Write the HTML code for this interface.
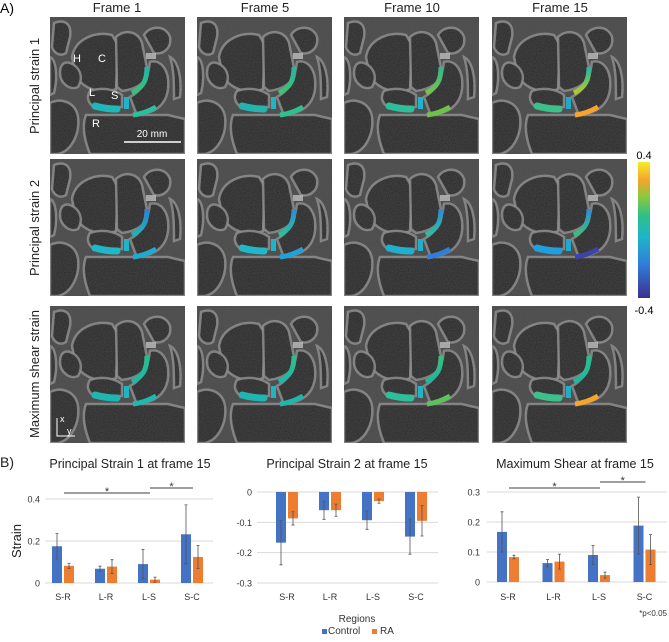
<!DOCTYPE html>
<html><head><meta charset="utf-8">
<style>
html,body{margin:0;padding:0;background:#fff;}
body{width:669px;height:637px;position:relative;overflow:hidden;font-family:"Liberation Sans",sans-serif;}
svg text{font-family:"Liberation Sans",sans-serif;}
</style></head>
<body>
<svg id="fig" width="669" height="637" viewBox="0 0 669 637" xmlns="http://www.w3.org/2000/svg">
<defs>
<filter id="noise" x="0" y="0" width="100%" height="100%">
<feTurbulence type="fractalNoise" baseFrequency="0.9" numOctaves="2" seed="3" result="t"/>
<feColorMatrix type="matrix" values="0 0 0 0 0.12  0 0 0 0 0.12  0 0 0 0 0.12  0 0 0 0.45 0" in="t"/>
<feComposite in2="SourceGraphic" operator="over"/>
</filter>
<g id="bones">
<rect x="0" y="0" width="135" height="137" fill="#4a4a4a"/>
<g fill="#232323" stroke="#9a9a9a" stroke-width="2.5" stroke-opacity="0.85">
<path d="M22,40 C25,22 45,14 62,18 L68,28 L66,72 C50,78 35,72 26,60 Z"/>
<path d="M66,20 C75,12 88,14 92,26 L98,56 C96,66 86,72 72,74 L67,70 Z"/>
<path d="M94,18 C100,8 116,8 120,20 C122,32 112,38 104,36 Z"/>
<path d="M4,6 C14,2 22,6 20,20 L16,36 C10,40 4,36 2,30 Z"/>
<path d="M100,45 C110,42 120,52 118,72 C116,88 104,98 86,96 L80,80 C92,74 98,62 100,45 Z"/>
<path d="M40,74 C52,70 64,72 72,78 L72,90 L44,90 C38,86 36,80 40,74 Z"/>
<path d="M0,86 C12,80 26,86 28,100 C30,116 22,134 8,137 L0,137 Z"/>
<path d="M36,98 L118,98 L126,100 L135,102 L135,137 L40,137 C34,122 32,108 36,98 Z"/>
<path d="M20,46 C30,50 34,60 28,70 C20,74 10,66 10,56 C10,48 14,44 20,46 Z"/>
<path d="M0,40 C6,42 8,60 4,76 L0,78 Z"/>
<path d="M120,40 C128,44 132,60 130,80 L124,82 C124,66 124,52 120,40 Z"/>
</g>
<rect x="96" y="36" width="10" height="6" fill="#d0d0d0" opacity="0.8"/>
</g>
</defs>
<text x="0" y="13" font-size="14">A)</text>
<g id="cols" font-size="13" text-anchor="middle" fill="#222">
<text x="117" y="12">Frame 1</text>
<text x="265" y="12">Frame 5</text>
<text x="412" y="12">Frame 10</text>
<text x="560" y="12">Frame 15</text>
</g>
<g font-size="13" fill="#222" text-anchor="middle">
<text transform="translate(39,86) rotate(-90)">Principal strain 1</text>
<text transform="translate(39,228) rotate(-90)">Principal strain 2</text>
<text transform="translate(39,374) rotate(-90)">Maximum shear strain</text>
</g>
<g id="panels"></g>
<g id="colorbar">
<defs><linearGradient id="viridis" x1="0" y1="1" x2="0" y2="0">
<stop offset="0" stop-color="#3b2f8f"/><stop offset="0.25" stop-color="#2f7fd8"/><stop offset="0.45" stop-color="#1fb5c8"/><stop offset="0.6" stop-color="#2cbf8a"/><stop offset="0.75" stop-color="#8fc83a"/><stop offset="0.87" stop-color="#f5a52c"/><stop offset="1" stop-color="#f4ec2a"/></linearGradient></defs>
<rect x="638" y="162" width="12" height="136" fill="url(#viridis)"/>
<text x="644" y="159" font-size="11" text-anchor="middle">0.4</text>
<text x="644" y="314" font-size="11" text-anchor="middle">-0.4</text>
</g>
<g id="charts"></g>
</svg>
<script>
const NS='http://www.w3.org/2000/svg';
function mk(tag,attrs,parent){const e=document.createElementNS(NS,tag);for(const k in attrs)e.setAttribute(k,attrs[k]);if(parent)parent.appendChild(e);return e;}
// ---------------- image panels -----------------
const panelX=[50,197,344,492];
const panelY=[17,159,306];
const segColors=[
 [["#1fb5a8","#3cbf7a","#1fb5c8","#1fb8b8","#2cbf9a"],["#22b5a0","#44c070","#1fb5c8","#22b5b0","#30bf90"],["#2cb98f","#7ac24a","#1fb5c8","#2cbf9a","#6cc24a"],["#1fb5a8","#b7c82a","#1fa8c8","#3cbf8a","#f5a52c"]],
 [["#2f7fd8","#1fb5b0","#1fb5c8","#1fb8c8","#1faad0"],["#2f8ad8","#2cbf9a","#1fb5c8","#1fb8c8","#22a0d8"],["#2f8ad8","#2cbf9a","#1fb0c8","#1fb0d0","#2f7fd8"],["#2f8ad8","#3cbf7a","#1fa8d0","#1f9ee0","#3b45a8"]],
 [["#2cbf8a","#1fb5a8","#1fb5c0","#1fb5b0","#1fb8b0"],["#2cbf8a","#1fb8a8","#1fb5c0","#1fb5b0","#1fb8a8"],["#3cbf7a","#22b5a0","#1fb5c0","#2cbf9a","#5cc25a"],["#2cbf8a","#22b5a0","#1fb0c0","#3cbf8a","#f5a52c"]]
];
const pg=document.getElementById('panels');
for(let r=0;r<3;r++)for(let c=0;c<4;c++){
 const g=mk('g',{transform:`translate(${panelX[c]},${panelY[r]})`},pg);
 
 
 mk('use',{href:'#bones',filter:'url(#noise)'},g);
 const col=segColors[r][c];
 const gid=`cg${r}${c}`;
 const d=mk('defs',{},g);const lg=mk('linearGradient',{id:gid,x1:0,y1:0,x2:0,y2:1},d);
 mk('stop',{offset:0,'stop-color':col[0]},lg);mk('stop',{offset:1,'stop-color':col[1]},lg);
 mk('path',{d:'M97,50 C97,62 94,70 82,76',stroke:`url(#${gid})`,'stroke-width':5,fill:'none'},g);
 mk('rect',{x:74,y:80,width:5,height:12,fill:col[2]},g);
 mk('path',{d:'M45,89 C52,91 60,92 67,92',stroke:col[3],'stroke-width':7,fill:'none','stroke-linecap':'round'},g);
 mk('path',{d:'M83,98 C92,97 99,94 106,90',stroke:col[4],'stroke-width':5,fill:'none'},g);
 if(r===0&&c===0){
  const lab=[['H',23,45],['C',48,45],['L',39,79],['S',61,82],['R',42,110]];
  lab.forEach(l=>{const t=mk('text',{x:l[1],y:l[2],'font-size':11,fill:'#fff'},g);t.textContent=l[0];
   
   });
  mk('line',{x1:74,y1:125,x2:131,y2:125,stroke:'#fff','stroke-width':1.5},g);
  const sb=mk('text',{x:102,y:120,'font-size':10,fill:'#fff','text-anchor':'middle'},g);sb.textContent='20 mm';
  
  
 }
 if(r===2&&c===0){
  mk('path',{d:'M7,112 L7,130 L25,130',stroke:'#fff','stroke-width':1,fill:'none'},g);
  const tx=mk('text',{x:10,y:116,'font-size':9,fill:'#fff'},g);tx.textContent='x';
  
  
  const ty=mk('text',{x:17,y:128,'font-size':9,fill:'#fff'},g);ty.textContent='y';
  
  
 }
}
// ---------------- bar charts -----------------
const categories=['S-R','L-R','L-S','S-C'];
const ps1Control=[0.175,0.068,0.09,0.232];
const ps1RA=[0.082,0.078,0.016,0.124];
const ps1ControlErr=[0.06,0.012,0.07,0.14];
const ps1RAErr=[0.012,0.033,0.012,0.055];
const ps1Ticks=[0,0.2,0.4];
const ps1TickLabels=['0','0.2','0.4'];
const ps2Control=[-0.167,-0.06,-0.093,-0.147];
const ps2RA=[-0.087,-0.06,-0.03,-0.095];
const ps2ControlErr=[0.073,0.03,0.03,0.058];
const ps2RAErr=[0.022,0.02,0.007,0.05];
const ps2Ticks=[0,-0.1,-0.2,-0.3];
const ps2TickLabels=['0','-0.1','-0.2','-0.3'];
const msControl=[0.167,0.063,0.09,0.188];
const msRA=[0.083,0.068,0.023,0.108];
const msControlErr=[0.067,0.012,0.032,0.095];
const msRAErr=[0.006,0.025,0.01,0.05];
const msTicks=[0,0.1,0.2,0.3];
const msTickLabels=['0','0.1','0.2','0.3'];

const charts=[
 {key:'principal-strain-1',title:'Principal Strain 1 at frame 15',tcx:130,x0:45,x1:213,c0:63,step:43,yA:0,pA:583,yB:0.4,pB:499,ctrl:ps1Control,ra:ps1RA,ce:ps1ControlErr,re:ps1RAErr,ticks:ps1Ticks,tl:ps1TickLabels,tx:40,sig:[[0,2,493],[2,3,488]]},
 {key:'principal-strain-2',title:'Principal Strain 2 at frame 15',tcx:347,x0:257,x1:438,c0:287,step:43,yA:0,pA:492,yB:-0.3,pB:583,ctrl:ps2Control,ra:ps2RA,ce:ps2ControlErr,re:ps2RAErr,ticks:ps2Ticks,tl:ps2TickLabels,tx:252,sig:[]},
 {key:'maximum-shear',title:'Maximum Shear at frame 15',tcx:575,x0:487,x1:667,c0:508,step:45.5,yA:0,pA:582,yB:0.3,pB:492,ctrl:msControl,ra:msRA,ce:msControlErr,re:msRAErr,ticks:msTicks,tl:msTickLabels,tx:480,sig:[[0,2,488],[2,3,482]]}
];
const cg=document.getElementById('charts');
charts.forEach(ch=>{
 const g=mk('g',{},cg);
 
 
 const y=v=>ch.pA+(v-ch.yA)*(ch.pB-ch.pA)/(ch.yB-ch.yA);
 const x=i=>ch.c0+i*ch.step;
 const t=mk('text',{x:ch.tcx,y:468,'font-size':12.5,'text-anchor':'middle',fill:'#222'},g);t.textContent=ch.title;
 
 
 ch.ticks.forEach((v,i)=>{
  const gl=mk('line',{x1:ch.x0,x2:ch.x1,y1:y(v),y2:y(v),stroke:'#d9d9d9','stroke-width':1},g);
  
  
  const tl=mk('text',{x:ch.tx,y:y(v)+3.5,'font-size':9,'text-anchor':'end',fill:'#333'},g);tl.textContent=ch.tl[i];
  
  
 });
 categories.forEach((cat,i)=>{
  [[ch.ctrl,ch.ce,'#4472c4',-6,'control'],[ch.ra,ch.re,'#ed7d31',6,'ra']].forEach(s=>{
   const v=s[0][i],cx=x(i)+s[3];
   const top=Math.min(y(v),y(0)),h=Math.abs(y(v)-y(0));
   const b=mk('rect',{x:cx-5,y:top,width:10,height:h,fill:s[2]},g);
   
   
   const e=s[1][i];
   const eb=mk('path',{d:`M${cx},${y(v-e)} L${cx},${y(v+e)} M${cx-1.5},${y(v-e)} L${cx+1.5},${y(v-e)} M${cx-1.5},${y(v+e)} L${cx+1.5},${y(v+e)}`,stroke:'#555','stroke-width':0.8,fill:'none'},g);
   
   
  });
  const cl=mk('text',{x:x(i),y:600,'font-size':9,'text-anchor':'middle',fill:'#333'},g);cl.textContent=cat;
  
  
 });
 ch.sig.forEach(s=>{
  const a=x(s[0])+1,b=x(s[1])+1;
  const ln=mk('line',{x1:a,x2:b,y1:s[2],y2:s[2],stroke:'#666','stroke-width':1.2},g);
  
  
  const st=mk('text',{x:(a+b)/2,y:s[2]+2,'font-size':11,'text-anchor':'middle',fill:'#333'},g);st.textContent='*';
  
  
 });
});
</script>
<svg width="669" height="637" style="position:absolute;left:0;top:0;pointer-events:none" xmlns="http://www.w3.org/2000/svg">
<text x="0" y="467" font-size="14" fill="#222">B)</text>
<text transform="translate(21,541) rotate(-90)" font-size="13" text-anchor="middle" fill="#222">Strain</text>
<text x="357" y="622" font-size="10" text-anchor="middle" fill="#333">Regions</text>
<g font-size="10" fill="#333">
<rect x="322" y="629" width="5" height="5" fill="#4472c4"/>
<text x="328" y="634">Control</text>
<rect x="372" y="629" width="5" height="5" fill="#ed7d31"/>
<text x="380" y="634">RA</text>
</g>
<text x="667" y="616" font-size="8" text-anchor="end" fill="#333">*p&lt;0.05</text>
</svg>
</body></html>
